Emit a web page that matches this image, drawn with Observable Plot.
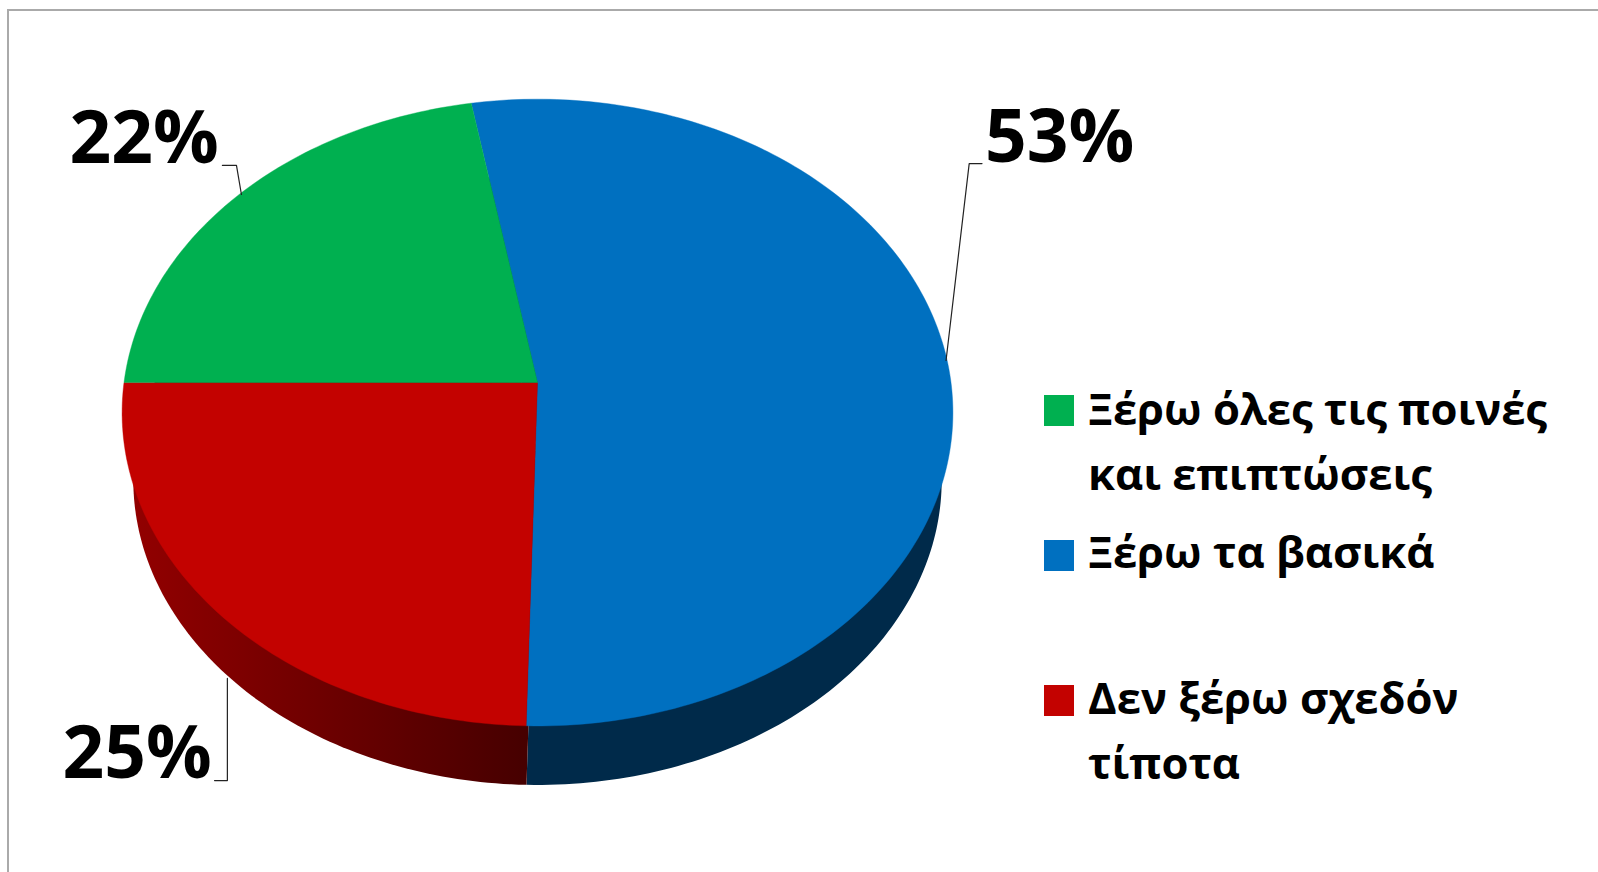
<!DOCTYPE html>
<html lang="el">
<head>
<meta charset="utf-8">
<script src="https://cdn.jsdelivr.net/npm/d3@7"></script>
<script src="https://cdn.jsdelivr.net/npm/@observablehq/plot@0.6"></script>
<style>
  html, body { margin: 0; padding: 0; background: #fff; overflow: hidden; }
  #page { position: relative; width: 1598px; height: 872px; }
  #page svg { position: absolute; left: 0; top: 0; }
  #frame { position: absolute; left: 7px; top: 9px; right: 0; bottom: 0; border-left: 2px solid #aaa; border-top: 2px solid #aaa; }
  #legend { position: absolute; left: 0; top: 0; font: 700 43.6px "Open Sans", sans-serif; color: #000; }
  .entry { position: absolute; left: 1088px; white-space: nowrap; line-height: 65px; }
  .swatch { position: absolute; left: 1044px; width: 30px; height: 31px; }
</style>
</head>
<body>
<div id="page"><div id="frame"></div></div>
<script>
// Slices, clockwise from the top seam
const categories = ["Ξέρω τα βασικά", "Δεν ξέρω σχεδόν τίποτα", "Ξέρω όλες τις ποινές και επιπτώσεις"];
const values = [53.2, 24.6, 22.2];
const topColors = ["#0070C0", "#C30200", "#00B050"];
const sideColors = ["#002A4A", "url(#redSide)", "#005028"];

// Label and leader anchors, in pie radii
const labelX = [1.082, -0.788, -0.771];
const labelY = [0.785, -1.199, 0.782];
const labelAnchor = ["start", "end", "end"];
const leaderX = [[0.988, 1.044, 1.075], [-0.750, -0.750, -0.781], [-0.716, -0.728, -0.762]];
const leaderY = [[0.071, 0.705, 0.705], [-0.953, -1.282, -1.282], [0.6055, 0.699, 0.699]];

// Legend order and rows
const legendOrder = [2, 0, 1];
const legendLines = [["Ξέρω όλες τις ποινές", "και επιπτώσεις"], ["Ξέρω τα βασικά"], ["Δεν ξέρω σχεδόν", "τίποτα"]];
const legendTops = [376, 519, 665];
const swatchTops = [395, 540, 685];

// View of the tilted disc
const tilt = 0.0959, depth = 0.22, shrink = 0.973, firstAngle = -10.1;

const pie = d3.pie().sort(null).startAngle(firstAngle * Math.PI / 180).endAngle(firstAngle * Math.PI / 180 + 2 * Math.PI);
const arcs = pie(values);

function wedge(a, scale, drop) {
  const pts = [{x: 0, y: -drop}];
  const n = Math.ceil((a.endAngle - a.startAngle) * 180 / Math.PI);
  for (let i = 0; i <= n; ++i) {
    const t = a.startAngle + (a.endAngle - a.startAngle) * i / n;
    const X = Math.sin(t), Y = Math.cos(t), w = 1 + tilt * Y;
    pts.push({x: scale * X / w, y: scale * Y / w - drop});
  }
  pts.push({x: 0, y: -drop});
  return pts;
}

const defs = () => {
  const d = d3.create("svg:defs");
  const g = d.append("linearGradient").attr("id", "redSide").attr("x1", 0).attr("x2", 1).attr("y1", 0).attr("y2", 0);
  g.append("stop").attr("offset", "0%").attr("stop-color", "#920000");
  g.append("stop").attr("offset", "100%").attr("stop-color", "#440000");
  return d.node();
};

const sideMarks = arcs.map((a, i) => Plot.line(wedge(a, shrink, depth), {x: "x", y: "y", fill: sideColors[i], stroke: "none", curve: "linear"}));
const topMarks = arcs.map((a, i) => Plot.line(wedge(a, 1, 0), {x: "x", y: "y", fill: topColors[i], stroke: topColors[i], strokeWidth: 0.4, curve: "linear"}));
const leaderMarks = leaderX.map((xs, i) => Plot.line(xs.map((x, j) => ({x, y: leaderY[i][j]})), {x: "x", y: "y", stroke: "#222", strokeWidth: 1.2, curve: "linear"}));
const labelMarks = values.map((v, i) => Plot.text([`${Math.round(v)}%`], {
  x: [labelX[i]], y: [labelY[i]], text: d => d, textAnchor: labelAnchor[i], lineAnchor: "middle",
  fontSize: 73, fontWeight: 700, fontFamily: "'Open Sans', sans-serif", fill: "#000"
}));

const chart = Plot.plot({
  width: 1598, height: 872, margin: 0,
  style: {background: "transparent", overflow: "visible"},
  x: {domain: [-1, 1], range: [537 - 413.5, 537 + 413.5], axis: null},
  y: {domain: [-1, 1], range: [382 + 310.5, 382 - 310.5], axis: null},
  marks: [defs, ...sideMarks, ...topMarks, ...leaderMarks, ...labelMarks]
});
document.getElementById("page").appendChild(chart);

const legend = document.createElement("div");
legend.id = "legend";
legendOrder.forEach((idx, i) => {
  const s = document.createElement("div");
  s.className = "swatch";
  s.style.top = swatchTops[i] + "px";
  s.style.background = topColors[idx];
  legend.appendChild(s);
  const t = document.createElement("div");
  t.className = "entry";
  t.style.top = legendTops[i] + "px";
  t.innerHTML = legendLines[i].join("<br>");
  legend.appendChild(t);
});
document.getElementById("page").appendChild(legend);
</script>
</body>
</html>
